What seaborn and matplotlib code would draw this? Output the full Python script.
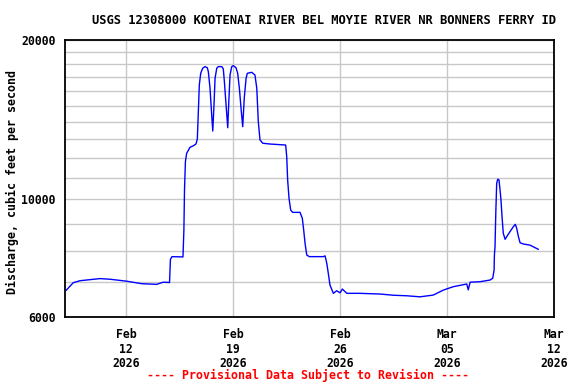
import pandas as pd
import matplotlib
matplotlib.use("Agg")
import matplotlib.pyplot as plt
import matplotlib.dates as mdates
import seaborn as sns

# days since 2026-02-08 00:00 and discharge (cfs)
day_offset = [
    0.06, 0.54, 0.98, 2.29, 2.95, 4.04, 5.02, 6.00, 6.43, 6.84,
    6.90, 7.00, 7.72, 7.78, 7.82, 7.88, 7.96, 8.18, 8.40, 8.57,
    8.66, 8.79, 8.88, 9.01, 9.16, 9.31, 9.38, 9.49, 9.60, 9.67,
    9.75, 9.82, 9.93, 10.03, 10.26, 10.36, 10.43, 10.54, 10.65, 10.71,
    10.80, 10.91, 11.01, 11.19, 11.30, 11.41, 11.52, 11.63, 11.73, 11.85,
    11.93, 12.22, 12.43, 12.55, 12.65, 12.76, 12.94, 13.42, 14.44, 14.51,
    14.57, 14.66, 14.77, 14.90, 15.38, 15.53, 15.62, 15.71, 15.82, 15.99,
    16.90, 17.02, 17.13, 17.23, 17.34, 17.56, 17.78, 18.00, 18.15, 18.44,
    19.31, 20.62, 21.49, 22.36, 23.23, 24.10, 24.76, 25.41, 26.29, 26.39,
    26.51, 27.16, 27.81, 27.99, 28.08, 28.10, 28.14, 28.19, 28.25, 28.32,
    28.40, 28.47, 28.53, 28.60, 28.68, 28.80, 28.91, 29.12, 29.34, 29.47,
    29.56, 29.67, 29.78, 29.99, 30.43, 30.65, 30.98,
]
discharge = [
    6730, 6965, 7025, 7090, 7070, 7010, 6935, 6915, 6980, 6970,
    7710, 7800, 7790, 8755, 10420, 11790, 12220, 12545, 12630, 12725,
    13010, 16450, 17305, 17690, 17815, 17735, 17430, 16220, 14435, 13465,
    15080, 16930, 17690, 17815, 17815, 17635, 16690, 15080, 13660, 15080,
    17180, 17815, 17890, 17735, 17305, 16220, 14860, 13720, 15530, 16930,
    17305, 17380, 17180, 16220, 14030, 12955, 12770, 12725, 12670, 12040,
    10885, 10050, 9550, 9455, 9455, 9215, 8755, 8260, 7855, 7800,
    7800, 7825, 7580, 7255, 6895, 6650, 6725, 6665, 6775, 6650,
    6650, 6630, 6595, 6580, 6550, 6600, 6745, 6845, 6925, 6750,
    6980, 6995, 7045, 7100, 7360, 7855, 8140, 9415, 10730, 10920,
    10890, 10420, 9980, 9280, 8635, 8410, 8510, 8695, 8885, 8975,
    8820, 8510, 8285, 8240, 8200, 8140, 8050,
]

start = pd.Timestamp("2026-02-08")
end = pd.Timestamp("2026-03-12")
tick_dates = ["2026-02-12", "2026-02-19", "2026-02-26", "2026-03-05", "2026-03-12"]
major_y = [6000, 10000, 20000]
minor_y = [7000, 8000, 9000, 11000, 12000, 13000, 14000, 15000,
           16000, 17000, 18000, 19000]

title = "USGS 12308000 KOOTENAI RIVER BEL MOYIE RIVER NR BONNERS FERRY ID"
ylabel = "Discharge, cubic feet per second"
footer = "---- Provisional Data Subject to Revision ----"

df = pd.DataFrame({
    "time": start + pd.to_timedelta(day_offset, unit="D"),
    "discharge": discharge,
})

sns.set_style("white")
plt.rcParams["font.family"] = ["DejaVu Sans Mono"]
plt.rcParams["font.weight"] = "bold"
plt.rcParams["text.color"] = "black"
plt.rcParams["xtick.color"] = "black"
plt.rcParams["ytick.color"] = "black"

fig = plt.figure(figsize=(5.76, 3.84), dpi=100)
ax = fig.add_axes([65 / 576, 1 - 317 / 384, 489 / 576, 277 / 384])

sns.lineplot(data=df, x="time", y="discharge", ax=ax, color="#0000ff",
             linewidth=1.0, zorder=3)

ax.set_yscale("log")
ax.set_ylim(6000, 20000)
ax.set_yticks(major_y)
ax.set_yticklabels([str(v) for v in major_y])
ax.set_yticks(minor_y, minor=True)
ax.set_yticklabels([], minor=True)

ax.set_xlim(start, end)
ax.set_xticks(pd.to_datetime(tick_dates))
ax.xaxis.set_major_formatter(mdates.DateFormatter("%b\n%d\n%Y"))

ax.grid(True, which="both", color="#c8c8c8", linewidth=1.0, zorder=0)
ax.set_axisbelow(True)
ax.tick_params(axis="both", which="both", length=0, labelsize=8.3,
               labelcolor="black")
ax.tick_params(axis="y", pad=7)
ax.tick_params(axis="x", pad=8)
for lab in ax.get_xticklabels():
    lab.set_linespacing(1.15)

for spine in ax.spines.values():
    spine.set_color("black")
    spine.set_linewidth(1.3)

ax.set_xlabel("")
ax.set_ylabel("")
fig.text(12 / 576, 1 - 182 / 384, ylabel, rotation=90, ha="center",
         va="center", fontsize=8.4, fontweight="bold", color="black")

fig.text(324 / 576, 1 - 20 / 384, title, ha="center", va="center",
         fontsize=8.7, fontweight="bold", color="black")
fig.text(308 / 576, 1 - 375 / 384, footer, ha="center", va="center",
         fontsize=8.4, fontweight="bold", color="red")

fig.savefig("out.png", dpi=100)
